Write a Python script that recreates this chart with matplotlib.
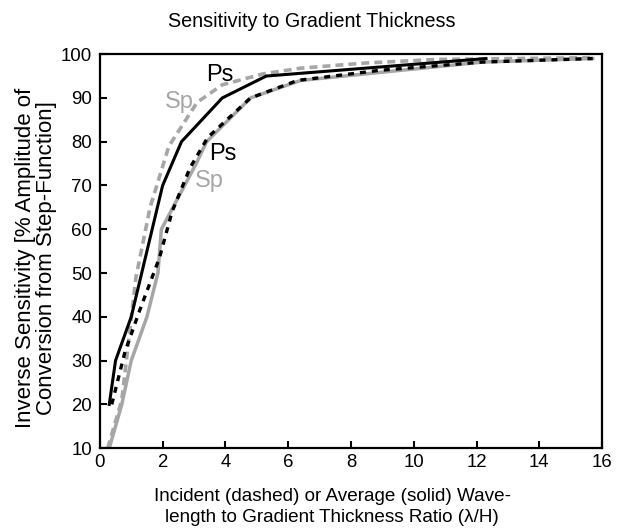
import matplotlib
matplotlib.use("Agg")
import matplotlib.pyplot as plt

plt.rcParams['font.family'] = ['Liberation Sans', 'DejaVu Sans']

# Ps, average wavelength (solid black)
ps_avg_x = [0.3, 0.5, 1.0, 2.0, 2.6, 3.9, 5.3, 12.3]
ps_avg_y = [20, 30, 40, 70, 80, 90, 95, 99]

# Ps, incident wavelength (dashed black)
ps_inc_x = [0.38, 0.8, 1.27, 1.9, 2.3, 2.87, 3.44, 4.8, 6.3, 8.9, 12.2, 15.7]
ps_inc_y = [20, 32, 41.5, 53.5, 64, 74, 81, 90, 94, 96.3, 98.2, 99]

# Sp, average wavelength (solid gray)
sp_avg_x = [0.3, 0.7, 1.0, 1.5, 1.85, 1.96, 3.07, 3.4, 4.8, 6.4, 12.2, 15.7]
sp_avg_y = [10, 20, 30, 40, 50, 60, 75, 80, 90, 94, 98.2, 99]

# Sp, incident wavelength (dashed gray)
sp_inc_x = [0.25, 0.7, 1.15, 1.6, 2.2, 3.1, 3.9, 5.2, 6.4, 8.5, 10.75, 15.7]
sp_inc_y = [10, 21, 49, 65, 79, 89, 93, 95.5, 96.8, 98, 98.8, 99.2]

xticks = [0, 2, 4, 6, 8, 10, 12, 14, 16]
yticks = [10, 20, 30, 40, 50, 60, 70, 80, 90, 100]

gray = '#a6a6a6'

fig = plt.figure(figsize=(6.24, 5.31), dpi=100)
ax = fig.add_axes([0.160, 0.156, 0.805, 0.742])

ax.plot(sp_avg_x, sp_avg_y, color=gray, lw=2.5)
ax.plot(sp_inc_x, sp_inc_y, color=gray, lw=2.6, dashes=(2.2, 1.4))
ax.plot(ps_inc_x, ps_inc_y, color='black', lw=2.4, dashes=(1.8, 1.8))
ax.plot(ps_avg_x, ps_avg_y, color='black', lw=2.2)

ax.text(3.82, 95.2, 'Ps', color='black', fontsize=17, ha='center', va='center')
ax.text(2.52, 89, 'Sp', color=gray, fontsize=17, ha='center', va='center')
ax.text(3.92, 77.2, 'Ps', color='black', fontsize=17, ha='center', va='center')
ax.text(3.5, 71, 'Sp', color=gray, fontsize=17, ha='center', va='center')

ax.set_xlim(0, 16)
ax.set_ylim(10, 100)
ax.set_xticks(xticks)
ax.set_yticks(yticks)
ax.tick_params(direction='in', length=5, width=1.5, labelsize=13.4)
ax.tick_params(axis='y', pad=5.5)
ax.tick_params(axis='x', pad=4)
for s in ax.spines.values():
    s.set_linewidth(1.6)

fig.text(0.5, 1 - 27 / 531, 'Sensitivity to Gradient Thickness',
         fontsize=14.2, ha='center', va='baseline')
fig.text(332 / 624, 1 - 488 / 531,
         'Incident (dashed) or Average (solid) Wave-\nlength to Gradient Thickness Ratio (\u03bb/H)',
         fontsize=13.6, ha='center', va='top', linespacing=1.3)
fig.text(36 / 624, 1 - 258 / 531,
         'Inverse Sensitivity [% Amplitude of\nConversion from Step-Function]',
         fontsize=16, rotation=90, ha='center', va='center', linespacing=1.0)

fig.savefig('out.png', dpi=100)
